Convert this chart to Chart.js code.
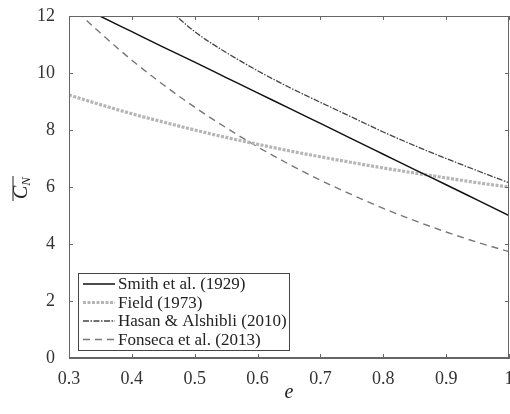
<!DOCTYPE html>
<html>
<head>
<meta charset="utf-8">
<script src="https://cdn.jsdelivr.net/npm/chart.js@4"></script>
<style>
  html, body { margin: 0; padding: 0; background: #fff; }
  #wrap { width: 510px; height: 414px; }
</style>
</head>
<body>
<div id="wrap"><canvas id="cnChart" width="510" height="414"></canvas></div>
<script>
// void ratio e (x axis)
const eValues = [0.3, 0.35, 0.4, 0.45, 0.5, 0.55, 0.6, 0.65, 0.7, 0.75, 0.8, 0.85, 0.9, 0.95, 1.0];

// mean coordination number
const smith   = [12.54, 11.99, 11.45, 10.91, 10.38, 9.84, 9.30, 8.77, 8.23, 7.69, 7.15, 6.61, 6.08, 5.54, 5.00];
const field   = [9.23, 8.89, 8.57, 8.28, 8.00, 7.74, 7.50, 7.27, 7.06, 6.86, 6.67, 6.49, 6.32, 6.15, 6.00];
const hasan   = [null, null, null, 12.40, 11.45, 10.72, 10.08, 9.50, 8.97, 8.45, 7.93, 7.45, 7.00, 6.57, 6.15];
const fonseca = [12.42, 11.40, 10.45, 9.59, 8.80, 8.08, 7.41, 6.80, 6.24, 5.73, 5.25, 4.82, 4.42, 4.06, 3.73];

const seriesLabels = ['Smith et al. (1929)', 'Field (1973)', 'Hasan & Alshibli (2010)', 'Fonseca et al. (2013)'];
const xTicks = [0.3, 0.4, 0.5, 0.6, 0.7, 0.8, 0.9, 1];
const yTicks = [0, 2, 4, 6, 8, 10, 12];

const FONT = '"Liberation Serif", "DejaVu Serif", serif';
const AXIS_COLOR = '#666';

function toPoints(values) {
    return eValues.map((e, i) => ({ x: e, y: values[i] }));
}

const styles = [
    { color: '#111', width: 1.5, dash: [] },
    { color: '#b5b5b5', width: 3.2, dash: [3, 1.5] },
    { color: '#444', width: 1.3, dash: [6, 1.5, 1.5, 1.5] },
    { color: '#777', width: 1.4, dash: [7, 5] }
];
const seriesData = [smith, field, hasan, fonseca];

const datasets = seriesData.map((vals, i) => ({
    label: seriesLabels[i],
    data: toPoints(vals),
    borderColor: styles[i].color,
    borderWidth: styles[i].width,
    borderDash: styles[i].dash,
    pointRadius: 0,
    fill: false,
    cubicInterpolationMode: 'monotone',
    clip: 0
}));

// box, inward ticks, legend and axis titles
const decorPlugin = {
    id: 'decor',
    afterDatasetsDraw(chart) {
        const ctx = chart.ctx;
        const ca = chart.chartArea;
        const xs = chart.scales.x, ys = chart.scales.y;
        ctx.save();

        // frame
        ctx.strokeStyle = AXIS_COLOR;
        ctx.lineWidth = 1;
        ctx.setLineDash([]);
        ctx.strokeRect(ca.left + 0.5, ca.top + 0.5, ca.right - ca.left - 1, ca.bottom - ca.top - 1);

        // inward ticks on all four sides
        const tl = 4;
        ctx.beginPath();
        xTicks.forEach(v => {
            const px = Math.round(xs.getPixelForValue(v)) + 0.5;
            ctx.moveTo(px, ca.bottom); ctx.lineTo(px, ca.bottom - tl);
            ctx.moveTo(px, ca.top); ctx.lineTo(px, ca.top + tl);
        });
        yTicks.forEach(v => {
            const py = Math.round(ys.getPixelForValue(v)) + 0.5;
            ctx.moveTo(ca.left, py); ctx.lineTo(ca.left + tl, py);
            ctx.moveTo(ca.right, py); ctx.lineTo(ca.right - tl, py);
        });
        ctx.stroke();

        // legend box
        const lx = ca.left + 9, lw = 211, lh = 77;
        const ly = ca.bottom - 8 - lh;
        ctx.fillStyle = '#fff';
        ctx.fillRect(lx, ly, lw, lh);
        ctx.strokeStyle = '#444';
        ctx.strokeRect(lx + 0.5, ly + 0.5, lw, lh);
        ctx.font = '17px ' + FONT;
        ctx.textBaseline = 'middle';
        ctx.textAlign = 'left';
        seriesLabels.forEach((label, i) => {
            const ry = ly + 11 + i * 18.5;
            ctx.beginPath();
            ctx.strokeStyle = styles[i].color;
            ctx.lineWidth = styles[i].width;
            ctx.setLineDash(styles[i].dash);
            ctx.moveTo(lx + 5, ry);
            ctx.lineTo(lx + 37, ry);
            ctx.stroke();
            ctx.setLineDash([]);
            ctx.fillStyle = '#222';
            ctx.fillText(label, lx + 40, ry + 1);
        });

        // x title
        ctx.fillStyle = '#222';
        ctx.font = 'italic 20px ' + FONT;
        ctx.textAlign = 'center';
        ctx.textBaseline = 'alphabetic';
        ctx.fillText('e', (ca.left + ca.right) / 2, 398);

        // y title: overlined C_N, rotated
        ctx.translate(27, (ca.top + ca.bottom) / 2);
        ctx.rotate(-Math.PI / 2);
        ctx.textAlign = 'left';
        ctx.font = 'italic 20px ' + FONT;
        ctx.fillText('C', -12, 0);
        const cw = ctx.measureText('C').width;
        ctx.font = 'italic 13px ' + FONT;
        ctx.fillText('N', -12 + cw, 3);
        const nw = ctx.measureText('N').width;
        ctx.strokeStyle = '#222';
        ctx.lineWidth = 1;
        ctx.beginPath();
        ctx.moveTo(-14, -14);
        ctx.lineTo(-12 + cw + nw + 1, -14);
        ctx.stroke();

        ctx.restore();
    }
};

new Chart(document.getElementById('cnChart'), {
    type: 'line',
    data: { datasets: datasets },
    options: {
        responsive: false,
        animation: false,
        layout: { padding: { top: 16, right: 1, left: 0, bottom: 0 } },
        plugins: {
            legend: { display: false },
            tooltip: { enabled: false }
        },
        scales: {
            x: {
                type: 'linear',
                min: 0.3,
                max: 1,
                afterBuildTicks: scale => { scale.ticks = xTicks.map(v => ({ value: v })); },
                afterFit: scale => { scale.height = 56; scale.paddingLeft = 0; scale.paddingRight = 0; },
                grid: { display: false },
                border: { display: true, color: AXIS_COLOR },
                ticks: {
                    color: '#333',
                    padding: 2,
                    maxRotation: 0,
                    font: { family: FONT, size: 18 },
                    callback: v => String(Math.round(v * 10) / 10)
                }
            },
            y: {
                min: 0,
                max: 12,
                afterBuildTicks: scale => { scale.ticks = yTicks.map(v => ({ value: v })); },
                afterFit: scale => { scale.width = 69; scale.paddingTop = 0; scale.paddingBottom = 0; },
                grid: { display: false },
                border: { display: true, color: AXIS_COLOR },
                ticks: {
                    color: '#333',
                    padding: 6,
                    font: { family: FONT, size: 18 }
                }
            }
        }
    },
    plugins: [decorPlugin]
});
</script>
</body>
</html>
